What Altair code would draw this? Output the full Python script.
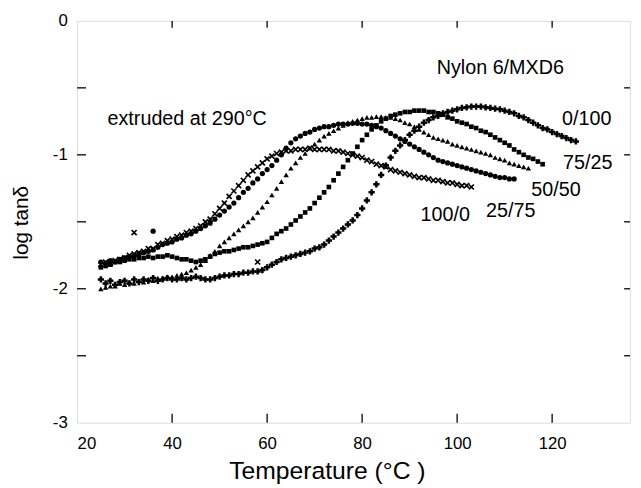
import altair as alt
import pandas as pd

FONT = "Liberation Sans"

# ---- data (log tan delta vs temperature) ----
blend_names = ["100/0", "25/75", "50/50", "75/25", "0/100"]

t0_100_0 = 25
y_100_0 = [-1.82, -1.80, -1.81, -1.79, -1.78, -1.77, -1.75, -1.74, -1.73, -1.72,
           -1.70, -1.70, -1.67, -1.66, -1.64, -1.63, -1.61, -1.60, -1.58, -1.57,
           -1.55, -1.53, -1.50, -1.48, -1.44, -1.40, -1.36, -1.31, -1.27, -1.23,
           -1.19, -1.15, -1.12, -1.09, -1.06, -1.03, -1.01, -0.99, -0.98, -0.97,
           -0.97, -0.96, -0.96, -0.96, -0.95, -0.96, -0.96, -0.96, -0.96, -0.97,
           -0.97, -0.98, -0.99, -1.00, -1.01, -1.02, -1.04, -1.05, -1.07, -1.08,
           -1.09, -1.11, -1.12, -1.13, -1.14, -1.15, -1.16, -1.17, -1.17, -1.18,
           -1.19, -1.19, -1.20, -1.21, -1.21, -1.22, -1.23, -1.23, -1.24]

t0_25_75 = 25
y_25_75 = [-1.80, -1.81, -1.79, -1.80, -1.78, -1.77, -1.76, -1.75, -1.74, -1.73,
           -1.72, -1.71, -1.69, -1.67, -1.66, -1.65, -1.63, -1.62, -1.60, -1.59,
           -1.57, -1.55, -1.53, -1.51, -1.48, -1.45, -1.42, -1.39, -1.36, -1.32,
           -1.28, -1.25, -1.21, -1.18, -1.14, -1.11, -1.08, -1.04, -1.00, -0.95,
           -0.91, -0.88, -0.86, -0.84, -0.83, -0.81, -0.80, -0.79, -0.79, -0.78,
           -0.77, -0.77, -0.77, -0.765, -0.765, -0.77, -0.77, -0.78, -0.79, -0.80,
           -0.82, -0.84, -0.86, -0.88, -0.90, -0.92, -0.94, -0.96, -0.98, -1.00,
           -1.02, -1.04, -1.05, -1.06, -1.07, -1.08, -1.09, -1.10, -1.11, -1.12,
           -1.13, -1.14, -1.15, -1.16, -1.17, -1.17, -1.18, -1.18]

t0_50_50 = 25
y_50_50 = [-2.00, -1.99, -1.98, -1.98, -1.96, -1.97, -1.95, -1.96, -1.94, -1.95,
           -1.93, -1.94, -1.92, -1.92, -1.91, -1.91, -1.90, -1.89, -1.88, -1.86,
           -1.84, -1.82, -1.79, -1.75, -1.72, -1.68, -1.65, -1.62, -1.59, -1.56,
           -1.53, -1.50, -1.47, -1.43, -1.39, -1.35, -1.30, -1.25, -1.20, -1.15,
           -1.10, -1.06, -1.02, -0.99, -0.95, -0.92, -0.89, -0.86, -0.84, -0.82,
           -0.80, -0.78, -0.76, -0.75, -0.74, -0.73, -0.72, -0.72, -0.715, -0.715,
           -0.72, -0.72, -0.73, -0.74, -0.76, -0.77, -0.79, -0.81, -0.83, -0.85,
           -0.87, -0.88, -0.89, -0.90, -0.92, -0.93, -0.94, -0.95, -0.96, -0.97,
           -0.98, -0.99, -1.00, -1.02, -1.03, -1.04, -1.06, -1.07, -1.08, -1.09,
           -1.10]

t0_75_25 = 25
y_75_25 = [-1.84, -1.83, -1.82, -1.80, -1.80, -1.79, -1.78, -1.78, -1.77, -1.77,
           -1.76, -1.77, -1.76, -1.76, -1.75, -1.76, -1.77, -1.78, -1.78, -1.79,
           -1.80, -1.79, -1.78, -1.76, -1.74, -1.73, -1.72, -1.72, -1.71, -1.70,
           -1.69, -1.69, -1.68, -1.67, -1.66, -1.65, -1.62, -1.59, -1.57, -1.55,
           -1.52, -1.49, -1.46, -1.43, -1.40, -1.36, -1.32, -1.28, -1.24, -1.19,
           -1.14, -1.09, -1.04, -0.99, -0.94, -0.89, -0.85, -0.81, -0.78, -0.75,
           -0.73, -0.71, -0.70, -0.69, -0.68, -0.68, -0.67, -0.67, -0.67, -0.68,
           -0.68, -0.69, -0.70, -0.72, -0.73, -0.75, -0.76, -0.77, -0.79, -0.80,
           -0.82, -0.83, -0.85, -0.87, -0.89, -0.91, -0.93, -0.96, -0.98, -1.00,
           -1.02, -1.03, -1.05, -1.07]

t0_0_100 = 25
y_0_100 = [-1.93, -1.96, -1.94, -1.97, -1.95, -1.94, -1.96, -1.93, -1.95, -1.93,
           -1.94, -1.92, -1.94, -1.93, -1.92, -1.93, -1.93, -1.92, -1.93, -1.92,
           -1.91, -1.92, -1.93, -1.93, -1.92, -1.91, -1.90, -1.90, -1.89, -1.89,
           -1.88, -1.88, -1.87, -1.87, -1.86, -1.84, -1.82, -1.80, -1.78, -1.77,
           -1.76, -1.75, -1.74, -1.73, -1.72, -1.70, -1.69, -1.67, -1.64, -1.61,
           -1.58, -1.55, -1.52, -1.49, -1.45, -1.40, -1.34, -1.28, -1.22, -1.15,
           -1.08, -1.02, -0.97, -0.93, -0.89, -0.85, -0.82, -0.79, -0.76, -0.74,
           -0.72, -0.71, -0.69, -0.68, -0.67, -0.66, -0.65, -0.645, -0.64, -0.64,
           -0.64, -0.645, -0.65, -0.655, -0.66, -0.67, -0.68, -0.69, -0.71, -0.72,
           -0.74, -0.76, -0.78, -0.80, -0.81, -0.83, -0.845, -0.86, -0.875, -0.89,
           -0.90]

# stray points at low temperature
stray_T = [32, 36, 58]
stray_y = [-1.58, -1.57, -1.80]
stray_blend = ["100/0", "25/75", "100/0"]

# annotations
label_text = ["0/100", "75/25", "50/50", "25/75", "100/0",
              "Nylon 6/MXD6", "extruded at 290°C"]
label_T = [122.1, 122.3, 115.6, 106.1, 92.3, 95.7, 26.4]
label_y = [-0.73, -1.06, -1.26, -1.42, -1.45, -0.35, -0.735]

x_ticks = [20, 40, 60, 80, 100, 120]
y_ticks = [0, -0.5, -1, -1.5, -2, -2.5, -3]
y_labels = [0, -1, -2, -3]


def frame(name, t0, ys):
    df = pd.DataFrame({"T": [t0 + i for i in range(len(ys))], "logtan": ys})
    extra = pd.DataFrame({"T": [t for t, b in zip(stray_T, stray_blend) if b == name],
                          "logtan": [v for v, b in zip(stray_y, stray_blend) if b == name]})
    return pd.concat([df, extra], ignore_index=True)


W, H = 560, 407

xs = alt.Scale(domain=[20, 136.4], nice=False, zero=False)
ys_ = alt.Scale(domain=[-3, 0], nice=False, zero=False)

X = alt.X("T:Q", scale=xs, axis=alt.Axis(
    values=x_ticks, title="Temperature (°C )", ticks=False, tickSize=0,
    domain=False, grid=False, labelPadding=13, labelFontSize=17,
    labelFont=FONT, labelColor="black", titleFont=FONT, titleFontSize=25,
    titleFontWeight="normal", titleColor="black", titleX=253, titleY=56,
    titleAlign="center", titleBaseline="alphabetic"))
Y = alt.Y("logtan:Q", scale=ys_, axis=alt.Axis(
    values=y_labels, labelExpr="'' + datum.value", title="log tanδ",
    ticks=False, tickSize=0, domain=False, grid=False, labelPadding=10,
    labelFontSize=17, labelFont=FONT, labelColor="black", titleFont=FONT,
    titleFontSize=21, titleFontWeight="normal", titleColor="black",
    titleAngle=270, titleX=-56, titleY=204, titleAlign="center",
    titleBaseline="middle"))

layers = []

# series
layers.append(alt.Chart(frame("100/0", t0_100_0, y_100_0)).mark_point(
    shape="M-1,-1L1,1M-1,1L1,-1", filled=False, stroke="black",
    strokeWidth=1.7, size=26, opacity=1).encode(x=X, y=Y))
layers.append(alt.Chart(frame("25/75", t0_25_75, y_25_75)).mark_point(
    shape="circle", filled=True, color="black", size=28, opacity=1).encode(x=X, y=Y))
layers.append(alt.Chart(frame("50/50", t0_50_50, y_50_50)).mark_point(
    shape="triangle-up", filled=True, color="black", size=30, opacity=1).encode(x=X, y=Y))
layers.append(alt.Chart(frame("75/25", t0_75_25, y_75_25)).mark_point(
    shape="square", filled=True, color="black", size=22, opacity=1).encode(x=X, y=Y))
layers.append(alt.Chart(frame("0/100", t0_0_100, y_0_100)).mark_point(
    shape="cross", filled=True, color="black", size=40, opacity=1).encode(x=X, y=Y))

# inward ticks
xt = pd.DataFrame({"T": x_ticks[1:]})
yt = pd.DataFrame({"logtan": y_ticks[1:-1]})
layers.append(alt.Chart(xt).mark_rule(color="black", strokeWidth=1.3).encode(
    x=X, y=alt.value(H), y2=alt.value(H - 9)))
layers.append(alt.Chart(xt).mark_rule(color="black", strokeWidth=1.3).encode(
    x=X, y=alt.value(0), y2=alt.value(7)))
layers.append(alt.Chart(yt).mark_rule(color="black", strokeWidth=1.3).encode(
    y=Y, x=alt.value(0), x2=alt.value(9)))
layers.append(alt.Chart(yt).mark_rule(color="black", strokeWidth=1.3).encode(
    y=Y, x=alt.value(W), x2=alt.value(W - 6)))

# annotations
ann = pd.DataFrame({"T": label_T, "logtan": label_y, "txt": label_text})
layers.append(alt.Chart(ann).mark_text(
    align="left", baseline="middle", font=FONT, fontSize=20, color="black").encode(
    x=X, y=Y, text="txt:N"))

chart = alt.layer(*layers).properties(
    width=W, height=H,
    autosize=alt.AutoSizeParams(type="none"),
    padding={"left": 70, "top": 10, "right": 3, "bottom": 60},
).configure_view(stroke="black", strokeWidth=2).configure(background="white")

chart.save("out.html", embed_options={"renderer": "svg", "actions": False})
